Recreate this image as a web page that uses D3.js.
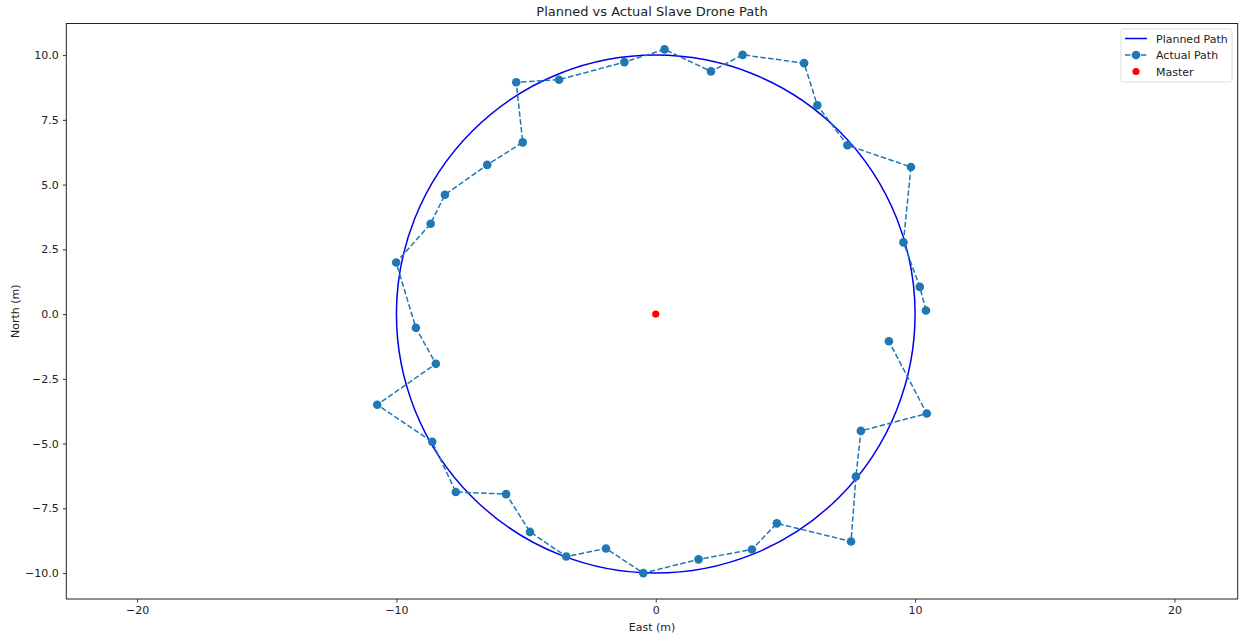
<!DOCTYPE html>
<html>
<head>
<meta charset="utf-8">
<script src="https://cdn.jsdelivr.net/npm/d3@7"></script>
<style>
  body { margin: 0; background: #fff; }
  svg text { font-family: "DejaVu Sans", sans-serif; fill: #222; }
</style>
</head>
<body>
<div class="container"></div>
<script>
const w = 1248;
const h = 637;
const margin = { left: 66.3, right: 10.3, top: 23.5, bottom: 38 };

// actual drone positions, in order along the path
const actualEast = [10.42, 10.18, 9.55, 9.84, 7.39, 6.23, 5.72, 3.35, 2.13, 0.34,
  -1.21, -3.73, -5.38, -5.13, -6.50, -8.13, -8.68, -10.01, -9.25, -8.48,
  -10.74, -8.62, -7.71, -5.77, -4.85, -3.45, -1.92, -0.48, 1.65, 3.71,
  4.67, 7.53, 7.72, 7.91, 10.45, 8.99];
const actualNorth = [0.14, 1.05, 2.77, 5.68, 6.52, 8.06, 9.69, 10.01, 9.37, 10.22,
  9.73, 9.05, 8.95, 6.63, 5.76, 4.61, 3.49, 1.99, -0.53, -1.92,
  -3.50, -4.93, -6.87, -6.95, -8.41, -9.36, -9.05, -10.0, -9.47, -9.09,
  -8.08, -8.78, -6.27, -4.51, -3.84, -1.05];

// planned circle and master position
const plannedRadius = 10;
const master = [0, 0];

const xTicks = [-20, -10, 0, 10, 20];
const yTicks = [-10, -7.5, -5, -2.5, 0, 2.5, 5, 7.5, 10];

const svg = d3.select(".container")
  .append("svg")
  .attr("width", w)
  .attr("height", h);

const xScale = d3.scaleLinear()
  .domain([-22.73, 22.44])
  .range([margin.left, w - margin.right]);

const yScale = d3.scaleLinear()
  .domain([-11.0, 11.22])
  .range([h - margin.bottom, margin.top]);

const plotW = w - margin.left - margin.right;
const plotH = h - margin.top - margin.bottom;

svg.append("defs").append("clipPath").attr("id", "clip")
  .append("rect")
  .attr("x", margin.left).attr("y", margin.top)
  .attr("width", plotW).attr("height", plotH);

const plot = svg.append("g").attr("clip-path", "url(#clip)");

// planned path
plot.append("ellipse")
  .attr("cx", xScale(master[0]))
  .attr("cy", yScale(master[1]))
  .attr("rx", xScale(plannedRadius) - xScale(0))
  .attr("ry", yScale(0) - yScale(plannedRadius))
  .attr("fill", "none")
  .attr("stroke", "#0000ee")
  .attr("stroke-width", 1.5);

// actual path
const pts = actualEast.map((e, i) => [e, actualNorth[i]]);
const line = d3.line()
  .x(d => xScale(d[0]))
  .y(d => yScale(d[1]));

plot.append("path")
  .datum(pts)
  .attr("d", line)
  .attr("fill", "none")
  .attr("stroke", "#1f77b4")
  .attr("stroke-width", 1.5)
  .attr("stroke-dasharray", "5.5,2.4");

plot.selectAll(".pt")
  .data(pts)
  .enter()
  .append("circle")
  .attr("class", "pt")
  .attr("cx", d => xScale(d[0]))
  .attr("cy", d => yScale(d[1]))
  .attr("r", 4.3)
  .attr("fill", "#1f77b4");

plot.append("circle")
  .attr("cx", xScale(master[0]))
  .attr("cy", yScale(master[1]))
  .attr("r", 3.6)
  .attr("fill", "red");

// axes
const xAxis = d3.axisBottom(xScale).tickValues(xTicks).tickSize(3.5).tickPadding(4)
  .tickFormat(d3.format("d"));
const yAxis = d3.axisLeft(yScale).tickValues(yTicks).tickSize(3.5).tickPadding(4)
  .tickFormat(d3.format(".1f"));

const gx = svg.append("g")
  .attr("transform", `translate(0,${h - margin.bottom})`)
  .call(xAxis);
const gy = svg.append("g")
  .attr("transform", `translate(${margin.left},0)`)
  .call(yAxis);

[gx, gy].forEach(g => {
  g.select(".domain").remove();
  g.selectAll("line").attr("stroke", "#222").attr("stroke-width", 0.9);
  g.selectAll("text").attr("font-size", 11).attr("fill", "#222")
    .style("font-family", "DejaVu Sans");
});

svg.append("rect")
  .attr("x", margin.left).attr("y", margin.top)
  .attr("width", plotW).attr("height", plotH)
  .attr("fill", "none")
  .attr("stroke", "#222")
  .attr("stroke-width", 1);

// labels
svg.append("text")
  .attr("x", (margin.left + w - margin.right) / 2)
  .attr("y", 16)
  .attr("text-anchor", "middle")
  .attr("font-size", 13)
  .text("Planned vs Actual Slave Drone Path");

svg.append("text")
  .attr("x", (margin.left + w - margin.right) / 2)
  .attr("y", 631)
  .attr("text-anchor", "middle")
  .attr("font-size", 11)
  .text("East (m)");

svg.append("text")
  .attr("transform", `translate(19,${(margin.top + h - margin.bottom) / 2}) rotate(-90)`)
  .attr("text-anchor", "middle")
  .attr("font-size", 11)
  .text("North (m)");

// legend
const legend = svg.append("g").attr("transform", "translate(1121,29)");
legend.append("rect")
  .attr("width", 111).attr("height", 53).attr("rx", 2)
  .attr("fill", "#fff").attr("fill-opacity", 0.8)
  .attr("stroke", "#ddd");

const items = ["Planned Path", "Actual Path", "Master"];
items.forEach((name, i) => {
  const y = 9.5 + i * 16.5;
  const g = legend.append("g").attr("transform", `translate(0,${y})`);
  if (i === 0) {
    g.append("line").attr("x1", 4).attr("x2", 26).attr("y1", 0).attr("y2", 0)
      .attr("stroke", "#0000ee").attr("stroke-width", 1.5);
  } else if (i === 1) {
    g.append("line").attr("x1", 4).attr("x2", 26).attr("y1", 0).attr("y2", 0)
      .attr("stroke", "#1f77b4").attr("stroke-width", 1.5)
      .attr("stroke-dasharray", "5.5,2.4");
    g.append("circle").attr("cx", 15).attr("cy", 0).attr("r", 4.3).attr("fill", "#1f77b4");
  } else {
    g.append("circle").attr("cx", 15).attr("cy", 0).attr("r", 3.6).attr("fill", "red");
  }
  g.append("text").attr("x", 35).attr("y", 4).attr("font-size", 11).text(name);
});
</script>
</body>
</html>
